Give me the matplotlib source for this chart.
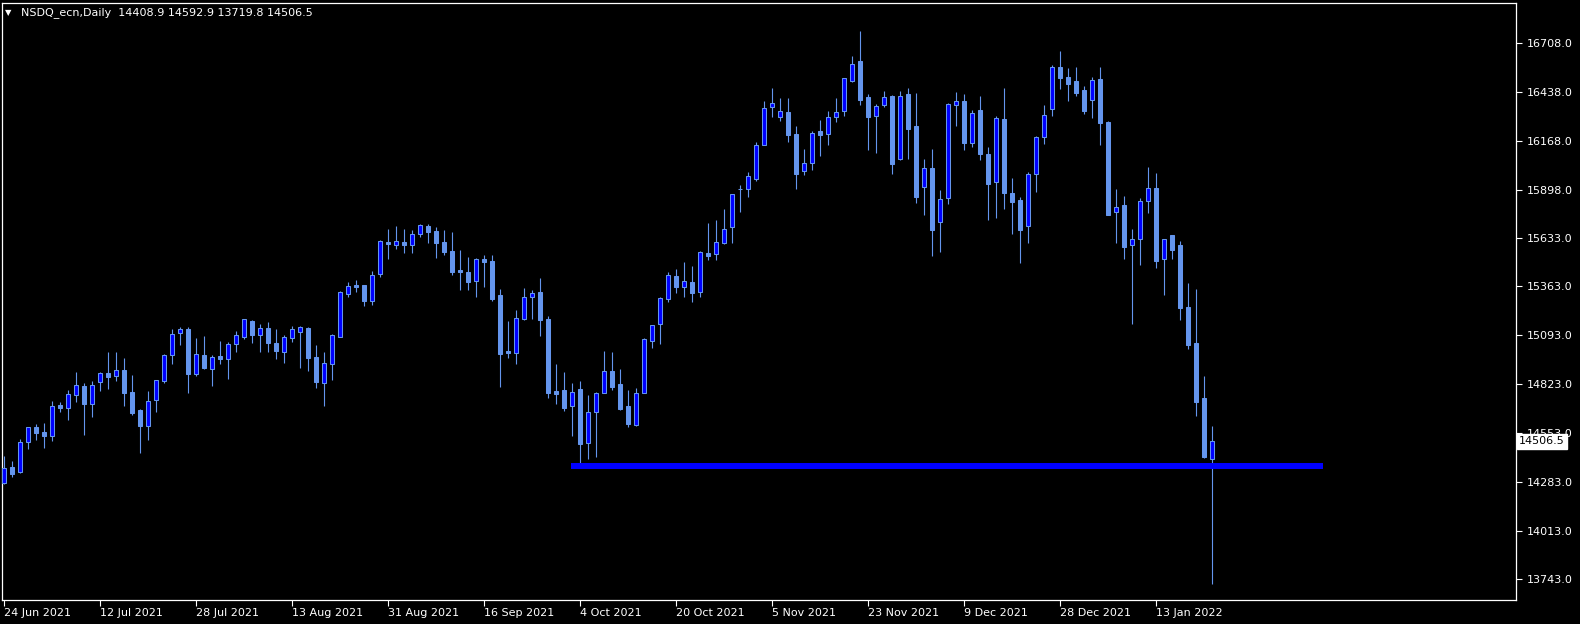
import numpy as np
import matplotlib
matplotlib.use("Agg")
import matplotlib.pyplot as plt
from matplotlib.transforms import blended_transform_factory

# daily candles NSDQ_ecn, bar 0 = 24 Jun 2021, last bar = 24 Jan 2022
opens = [14274, 14366, 14339, 14501, 14586, 14558, 14538, 14706, 14693, 14764,
         14812, 14711, 14833, 14883, 14866, 14899, 14778, 14678, 14590, 14733,
         14839, 14982, 15104, 15126, 14877, 14984, 14908, 14979, 14964, 15047,
         15085, 15172, 15096, 15133, 15049, 15002, 15080, 15113, 15133, 14973,
         14831, 14936, 15085, 15323, 15371, 15371, 15284, 15434, 15609, 15594,
         15609, 15594, 15655, 15698, 15670, 15609, 15559, 15454, 15443, 15395,
         15515, 15504, 15316, 15008, 14997, 15183, 15307, 15332, 15183, 14785,
         14790, 14704, 14796, 14497, 14670, 14776, 14896, 14824, 14702, 14599,
         14776, 15063, 15157, 15295, 15421, 15362, 15388, 15332, 15548, 15543,
         15604, 15690, 15902, 15901, 15959, 16144, 16357, 16299, 16328, 16206,
         16000, 16044, 16221, 16205, 16299, 16332, 16501, 16610, 16411, 16304,
         16365, 16417, 16068, 16428, 16251, 15912, 16018, 15718, 15851, 16365,
         16389, 16155, 16339, 16096, 15939, 16288, 15878, 15841, 15696, 15983,
         16188, 16343, 16575, 16520, 16498, 16448, 16393, 16509, 16273, 15773,
         15814, 15591, 15627, 15834, 15908, 15513, 15646, 15591, 15250, 15050,
         14746, 14408.9]
highs = [14425, 14398, 14518, 14584, 14602, 14608, 14730, 14722, 14790, 14890,
         14829, 14840, 14892, 15001, 15001, 14966, 14873, 14684, 14785, 14844,
         14990, 15128, 15137, 15137, 15078, 15089, 14982, 15061, 15056, 15117,
         15183, 15178, 15155, 15167, 15128, 15093, 15143, 15144, 15139, 15039,
         15001, 15099, 15338, 15388, 15399, 15371, 15449, 15618, 15681, 15698,
         15681, 15675, 15709, 15709, 15692, 15675, 15664, 15565, 15526, 15521,
         15537, 15537, 15349, 15172, 15233, 15355, 15344, 15410, 15200, 14934,
         14890, 14829, 14840, 14763, 14779, 15006, 15001, 14907, 14790, 14802,
         15078, 15148, 15305, 15443, 15460, 15498, 15476, 15559, 15714, 15731,
         15792, 15873, 15924, 15996, 16161, 16389, 16461, 16406, 16406, 16251,
         16123, 16223, 16284, 16334, 16406, 16514, 16638, 16776, 16428, 16372,
         16444, 16422, 16444, 16461, 16433, 16068, 16123, 15897, 16376, 16439,
         16428, 16339, 16418, 16134, 16306, 16461, 15963, 15858, 15996, 16194,
         16367, 16588, 16665, 16571, 16577, 16470, 16522, 16577, 16278, 15902,
         15863, 15681, 15852, 16026, 15991, 15624, 15646, 15615, 15382, 15349,
         14868, 14592.9]
lows = [14270, 14311, 14333, 14466, 14514, 14471, 14510, 14670, 14626, 14726,
        14543, 14643, 14786, 14798, 14842, 14702, 14652, 14444, 14516, 14670,
        14831, 14936, 15041, 14776, 14870, 14908, 14814, 14934, 14851, 15001,
        15074, 15050, 15001, 15001, 14962, 14940, 15056, 14912, 14896, 14802,
        14702, 14846, 15085, 15305, 15332, 15255, 15261, 15415, 15515, 15570,
        15548, 15548, 15637, 15604, 15521, 15537, 15427, 15344, 15344, 15305,
        15360, 15283, 14807, 14967, 14934, 15178, 15183, 15089, 14746, 14713,
        14674, 14536, 14370, 14409, 14420, 14776, 14792, 14680, 14587, 14593,
        14776, 15023, 15045, 15277, 15327, 15305, 15277, 15305, 15509, 15509,
        15598, 15605, 15777, 15860, 15948, 16144, 16302, 16280, 16164, 15904,
        15981, 16009, 16086, 16147, 16274, 16308, 16496, 16368, 16120, 16103,
        16354, 15987, 16064, 16070, 15826, 15760, 15533, 15554, 15821, 16252,
        16120, 16136, 16064, 15732, 15743, 15793, 15655, 15495, 15605, 15887,
        16153, 16308, 16457, 16391, 16418, 16319, 16297, 16147, 15760, 15605,
        15517, 15155, 15483, 15771, 15465, 15318, 15517, 15179, 15019, 14648,
        14416, 13719.8]
closes = [14357, 14326, 14501, 14584, 14554, 14538, 14700, 14693, 14767, 14816,
          14715, 14816, 14883, 14864, 14899, 14776, 14665, 14593, 14728, 14844,
          14982, 15099, 15126, 14881, 14988, 14912, 14971, 14964, 15043, 15093,
          15183, 15095, 15132, 15052, 15008, 15084, 15126, 15139, 14967, 14835,
          14940, 15095, 15332, 15364, 15360, 15283, 15425, 15615, 15600, 15613,
          15594, 15653, 15703, 15664, 15605, 15555, 15445, 15445, 15389, 15515,
          15498, 15294, 14990, 14997, 15189, 15305, 15327, 15178, 14774, 14768,
          14691, 14779, 14492, 14669, 14774, 14896, 14809, 14685, 14602, 14772,
          15073, 15148, 15299, 15425, 15360, 15392, 15327, 15554, 15532, 15609,
          15681, 15873, 15900, 15972, 16144, 16349, 16380, 16332, 16203, 15987,
          16044, 16210, 16203, 16299, 16326, 16514, 16592, 16396, 16302, 16361,
          16409, 16042, 16418, 16236, 15860, 16017, 15677, 15845, 16371, 16387,
          16158, 16321, 16097, 15932, 16293, 15882, 15832, 15677, 15983, 16188,
          16310, 16575, 16518, 16485, 16435, 16335, 16503, 16269, 15760, 15801,
          15583, 15624, 15834, 15906, 15506, 15624, 15566, 15246, 15041, 14726,
          14422, 14506.5]

date_labels = ["24 Jun 2021", "12 Jul 2021", "28 Jul 2021", "13 Aug 2021",
               "31 Aug 2021", "16 Sep 2021", "4 Oct 2021", "20 Oct 2021",
               "5 Nov 2021", "23 Nov 2021", "9 Dec 2021", "28 Dec 2021",
               "13 Jan 2022"]
date_bars = [0, 12, 24, 36, 48, 60, 72, 84, 96, 108, 120, 132, 144]
price_ticks = [16708, 16438, 16168, 15898, 15633, 15363, 15093,
               14823, 14553, 14283, 14013, 13743]

support_level = 14370
support_from, support_to = 70.9, 164.9

bull_col = '#0000FF'
bear_col = '#6495ED'

o = np.array(opens, dtype=float)
h = np.array(highs, dtype=float)
l = np.array(lows, dtype=float)
c = np.array(closes, dtype=float)
x = np.arange(len(o))
up = c >= o

W, H = 1580, 624
fig = plt.figure(figsize=(W / 100, H / 100), dpi=100, facecolor='black')
ax = fig.add_axes([2 / W, (H - 600) / H, 1514 / W, 597 / H], facecolor='black')

# wicks then bodies
ax.vlines(x, l, h, color=bear_col, lw=0.8, zorder=2)
body_low = np.minimum(o, c)
body_h = np.maximum(np.abs(c - o), 0.5)
ax.bar(x[up], body_h[up], bottom=body_low[up], width=0.6,
       facecolor=bull_col, edgecolor=bear_col, linewidth=0.75, zorder=3)
ax.bar(x[~up], body_h[~up], bottom=body_low[~up], width=0.6,
       facecolor=bear_col, edgecolor=bear_col, linewidth=0.75, zorder=3)

# horizontal support line
ax.hlines(support_level, support_from, support_to, color=bull_col,
          lw=4.3, zorder=4, capstyle='butt')

ax.set_xlim(-0.25, 189.0)
ax.set_ylim(13629, 16931)

for s in ax.spines.values():
    s.set_color('white')
    s.set_linewidth(0.9)

ax.yaxis.tick_right()
ax.set_yticks(price_ticks, [f'{v:.1f}' for v in price_ticks])
ax.set_xticks(date_bars, date_labels)
for lbl in ax.get_xticklabels():
    lbl.set_ha('left')
ax.tick_params(axis='both', colors='white', labelcolor='white',
               labelsize=8, length=4, width=0.8)
ax.tick_params(axis='x', pad=2)
ax.tick_params(axis='y', pad=4)

# current price marker on the price scale
tr = blended_transform_factory(ax.transAxes, ax.transData)
ax.text(1.0018, closes[-1], f'{closes[-1]:.1f}', transform=tr, color='black',
        fontsize=8, va='center', ha='left', clip_on=False, zorder=10,
        bbox=dict(boxstyle='square,pad=0.2', fc='white', ec='white'))

# header
fig.text(5 / W, 1 - 13 / H, '\u25BC', color='white', fontsize=6, va='center')
fig.text(21 / W, 1 - 13 / H,
         f'NSDQ_ecn,Daily  {opens[-1]:.1f} {highs[-1]:.1f} {lows[-1]:.1f} {closes[-1]:.1f}',
         color='white', fontsize=8, va='center')

fig.savefig('out.png', dpi=100, facecolor='black')
